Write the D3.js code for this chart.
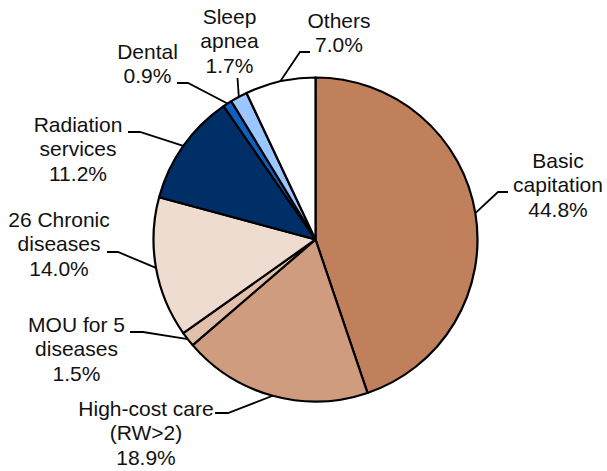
<!DOCTYPE html>
<html>
<head>
<meta charset="utf-8">
<script src="https://cdn.jsdelivr.net/npm/d3@7"></script>
<style>
  html, body { margin: 0; padding: 0; background: #fff; }
  svg { display: block; }
</style>
</head>
<body>
<svg id="chart" width="607" height="471"></svg>
<script>
// ---- data ----
const categories = ["Basic capitation", "High-cost care (RW>2)", "MOU for 5 diseases", "26 Chronic diseases", "Radiation services", "Dental", "Sleep apnea", "Others"];
const shares = [44.8, 18.9, 1.5, 14.0, 11.2, 0.9, 1.7, 7.0];
const labelLines = [
  ["Basic", "capitation"],
  ["High-cost care", "(RW>2)"],
  ["MOU for 5", "diseases"],
  ["26 Chronic", "diseases"],
  ["Radiation", "services"],
  ["Dental"],
  ["Sleep", "apnea"],
  ["Others"]
];
const sliceColors = ["#c0805c", "#cf9c80", "#e2bfaa", "#efdcd1", "#002e66", "#0d5fc0", "#9cc6ff", "#ffffff"];

// ---- layout (label placement, leader elbows) ----
const labelLayout = [
  { cx: 558, y0: 168, elbow: [498, 192], end: [508, 192] },
  { cx: 146, y0: 416, elbow: [228, 413], end: [215, 413] },
  { cx: 76.5, y0: 332, elbow: [143, 332], end: [130, 332] },
  { cx: 59, y0: 227, elbow: [118, 252], end: [107, 252] },
  { cx: 78, y0: 132, elbow: [140, 132], end: [128, 132] },
  { cx: 147.5, y0: 59, elbow: [188, 83], end: [177, 83] },
  { cx: 229.5, y0: 24, elbow: [237.5, 78], end: [237.5, 78] },
  { cx: 339, y0: 28, elbow: [300, 52], end: [310, 52] }
];

const cx = 315.5, cy = 239.5, R = 162;
const lineH = 24.3;

const svg = d3.select("#chart");
const g = svg.append("g").attr("transform", `translate(${cx},${cy})`);

const data = categories.map((c, i) => ({ name: c, value: shares[i], i }));
const pie = d3.pie().value(d => d.value).sort(null);
const arcs = pie(data);
const arc = d3.arc().innerRadius(0).outerRadius(R);

g.selectAll("path.slice")
  .data(arcs)
  .join("path")
  .attr("class", "slice")
  .attr("d", arc)
  .attr("fill", d => sliceColors[d.data.i])
  .attr("stroke", "#000")
  .attr("stroke-width", 2.2)
  .attr("stroke-linejoin", "round");

// leader lines
const lineGen = d3.line();
arcs.forEach(a => {
  const L = labelLayout[a.data.i];
  const mid = (a.startAngle + a.endAngle) / 2;
  const p = [cx + R * Math.sin(mid), cy - R * Math.cos(mid)];
  svg.append("path")
    .attr("d", lineGen([p, L.elbow, L.end]))
    .attr("fill", "none")
    .attr("stroke", "#000")
    .attr("stroke-width", 1.8);
});

// labels
const fmt = d3.format(".1f");
arcs.forEach(a => {
  const i = a.data.i;
  const L = labelLayout[i];
  const lines = labelLines[i].concat([fmt(shares[i]) + "%"]);
  const t = svg.append("text")
    .attr("text-anchor", "middle")
    .attr("font-family", "Liberation Sans, Arial, sans-serif")
    .attr("font-size", 21)
    .attr("fill", "#111");
  lines.forEach((s, k) => {
    t.append("tspan")
      .attr("x", L.cx)
      .attr("y", L.y0 + k * lineH)
      .text(s);
  });
});
</script>
</body>
</html>
